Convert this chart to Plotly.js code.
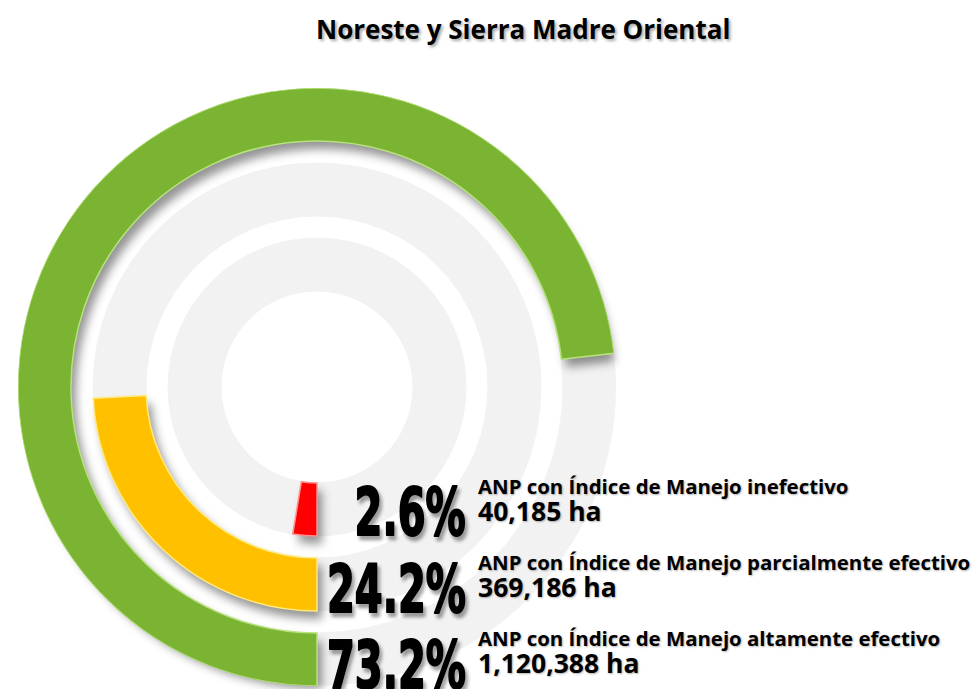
<!DOCTYPE html>
<html><head><meta charset="utf-8">
<script src="https://cdn.plot.ly/plotly-3.0.1.min.js"></script>
<style>html,body{margin:0;padding:0;background:#fff;} #chart{width:977px;height:689px;}</style>
</head><body><div id="chart"></div>
<script>
// ---------- data ----------
const chartTitle = 'Noreste y Sierra Madre Oriental';
const categories = [
  'ANP con Índice de Manejo inefectivo',
  'ANP con Índice de Manejo parcialmente efectivo',
  'ANP con Índice de Manejo altamente efectivo'
];
const percentages = [2.6, 24.2, 73.2];
const hectares = [40185, 369186, 1120388];

// ---------- style / geometry ----------
const barColors = ['#FF0000', '#FFC000', '#7AB432'];
const edgeColors = ['#FF9090', '#FFEA80', '#B8E27E'];
const trackColor = '#F2F2F2';
const W = 977, H = 689;
const CX = 317, CY = 387, R = 299;
const ringBase = [96, 171, 246];
const ringThick = 53;
const degPerPct = 3.6;
const SHX = 5, SHY = 8, SR = 294;
const bigTextWidth = 139;   // target rendered width of the widest big percentage

function dom(cx, cy, r) {
  return { x: [(cx - r) / W, (cx + r) / W], y: [(H - cy - r) / H, (H - cy + r) / H] };
}
function hiddenPolar(cx, cy, r) {
  return {
    domain: dom(cx, cy, r),
    radialaxis: { visible: false, range: [0, r], showgrid: false },
    angularaxis: { visible: false, rotation: 270, direction: 'clockwise', showgrid: false },
    bgcolor: 'rgba(0,0,0,0)'
  };
}

const traces = [];
// background tracks
ringBase.forEach((b) => {
  traces.push({
    type: 'barpolar', subplot: 'polar',
    theta: [90, 270], width: [180, 180], base: [b, b], r: [ringThick, ringThick],
    marker: { color: trackColor, line: { color: trackColor, width: 1 } },
    hoverinfo: 'skip', showlegend: false
  });
});
// shadows
percentages.forEach((p, i) => {
  traces.push({
    type: 'barpolar', subplot: 'polar2',
    theta: [p * degPerPct / 2], width: [p * degPerPct], base: [ringBase[i]], r: [ringThick],
    marker: { color: 'rgba(0,0,0,0.42)', line: { width: 0 } },
    hoverinfo: 'skip', showlegend: false
  });
});
// bars
percentages.forEach((p, i) => {
  traces.push({
    type: 'barpolar', subplot: 'polar3', name: categories[i],
    theta: [p * degPerPct / 2], width: [p * degPerPct], base: [ringBase[i]], r: [ringThick],
    marker: { color: barColors[i], line: { color: edgeColors[i], width: 1.5 } },
    hoverinfo: 'skip', showlegend: false
  });
});

// ---------- annotations ----------
const px = x => x / W, py = y => 1 - y / H;
const annotations = [{
  text: chartTitle, x: px(523), y: py(29), xref: 'paper', yref: 'paper',
  xanchor: 'center', yanchor: 'middle', showarrow: false,
  font: { family: 'Open Sans', size: 26, weight: 700, color: '#000', shadow: '2px 2px 3px rgba(0,0,0,0.35)' }
}];
const rowPct = [512, 589, 665];
const rowLbl = [500, 576, 652];
percentages.forEach((p, i) => {
  annotations.push({
    text: p.toFixed(1) + '%', x: px(468), y: py(rowPct[i]), xref: 'paper', yref: 'paper',
    xanchor: 'right', yanchor: 'middle', showarrow: false,
    font: { family: 'DejaVu Sans Condensed', size: 66, weight: 700, color: '#000',
      shadow: '3px 3px 4px rgba(0,0,0,0.35)' }
  });
  annotations.push({
    text: categories[i] + '<br><span style="font-size:26.5px">' + hectares[i].toLocaleString('en-US') + ' ha</span>',
    x: px(476), y: py(rowLbl[i]), xref: 'paper', yref: 'paper',
    xanchor: 'left', yanchor: 'middle', align: 'left', showarrow: false,
    font: { family: 'Open Sans', size: 20.4, weight: 700, color: '#000', shadow: '1px 1px 2px rgba(0,0,0,0.3)' }
  });
});

const layout = {
  width: W, height: H, margin: { l: 0, r: 0, t: 0, b: 0 },
  paper_bgcolor: '#fff', showlegend: false, dragmode: false,
  polar: hiddenPolar(CX, CY, R),
  polar2: hiddenPolar(CX + SHX, CY + SHY, SR),
  polar3: hiddenPolar(CX, CY, R),
  annotations: annotations
};

Plotly.newPlot('chart', traces, layout, { staticPlot: true, displayModeBar: false }).then(gd => {
  const svg = gd.querySelector('svg.main-svg');
  const ns = 'http://www.w3.org/2000/svg';
  let defs = svg.querySelector('defs');
  if (!defs) { defs = document.createElementNS(ns, 'defs'); svg.insertBefore(defs, svg.firstChild); }
  const f = document.createElementNS(ns, 'filter');
  f.setAttribute('id', 'shadowBlur');
  f.setAttribute('x', '-20%'); f.setAttribute('y', '-20%');
  f.setAttribute('width', '140%'); f.setAttribute('height', '140%');
  const blur = document.createElementNS(ns, 'feGaussianBlur');
  blur.setAttribute('stdDeviation', '5');
  f.appendChild(blur); defs.appendChild(f);
  const g = gd.querySelector('g.polar2');
  if (g) g.setAttribute('filter', 'url(#shadowBlur)');

  // condense the big percentage numbers (Impact-like look)
  const bigIdx = percentages.map((p, i) => 1 + 2 * i);
  const texts = bigIdx.map(k => gd.querySelector('g.annotation[data-index="' + k + '"] text.annotation-text')).filter(Boolean);
  let maxW = 0;
  texts.forEach(t => { maxW = Math.max(maxW, t.getBBox().width); });
  const k = maxW ? bigTextWidth / maxW : 1;
  texts.forEach(t => {
    t.style.transformBox = 'fill-box';
    t.style.transformOrigin = 'right center';
    t.style.transform = 'scaleX(' + k.toFixed(3) + ')';
    t.style.stroke = '#000';
    t.style.strokeWidth = '2px';
    t.style.strokeLinejoin = 'round';
  });
});
</script>
</body></html>
